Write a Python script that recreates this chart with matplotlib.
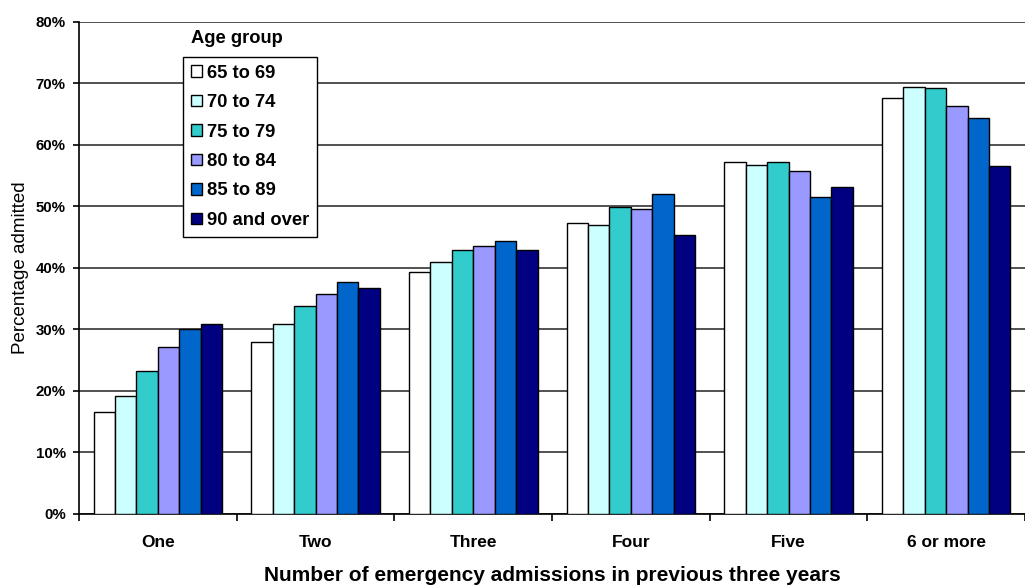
import numpy as np
import matplotlib
matplotlib.use('Agg')
import matplotlib.pyplot as plt
from matplotlib.ticker import PercentFormatter

plt.rcParams['font.family'] = ['Liberation Sans', 'DejaVu Sans']

# ── Data ─────────────────────────────────────────────────────────────────────
categories = ["One", "Two", "Three", "Four", "Five", "6 or more"]
age_groups = ["65 to 69", "70 to 74", "75 to 79", "80 to 84", "85 to 89", "90 and over"]

pct_65_69 = [16.6, 28.0, 39.3, 47.3, 57.3, 67.6]
pct_70_74 = [19.2, 30.9, 40.9, 47.0, 56.8, 69.5]
pct_75_79 = [23.2, 33.8, 43.0, 49.9, 57.3, 69.2]
pct_80_84 = [27.2, 35.7, 43.5, 49.6, 55.8, 66.3]
pct_85_89 = [30.0, 37.8, 44.4, 52.1, 51.5, 64.4]
pct_90_up = [30.9, 36.7, 43.0, 45.4, 53.1, 56.6]

series = [pct_65_69, pct_70_74, pct_75_79, pct_80_84, pct_85_89, pct_90_up]
colors = ["#FFFFFF", "#CCFFFF", "#33CCCC", "#9999FF", "#0066CC", "#000080"]

# ── Plot ─────────────────────────────────────────────────────────────────────
fig = plt.figure(figsize=(10.25, 5.85), dpi=100)
ax = fig.add_axes([0.0771, 0.1214, 0.9229, 0.841])

x = np.arange(len(categories))
bar_w = 0.136
offsets = (np.arange(len(series)) - (len(series) - 1) / 2) * bar_w

for vals, col, lab, off in zip(series, colors, age_groups, offsets):
    ax.bar(x + off, vals, width=bar_w, color=col, edgecolor="black",
           linewidth=1.0, label=lab, zorder=3)

ax.set_xlim(-0.5, len(categories) - 0.5)
ax.set_ylim(0, 80)
ax.set_yticks(np.arange(0, 81, 10))
ax.yaxis.set_major_formatter(PercentFormatter(decimals=0))
ax.yaxis.grid(True, color="#333333", linewidth=1.2, zorder=0)
ax.set_axisbelow(True)

# category labels centred, ticks on group boundaries
ax.set_xticks(x)
ax.set_xticklabels(categories, fontsize=12.5, fontweight="bold")
ax.set_xticks(np.arange(-0.5, len(categories)), minor=True)
ax.tick_params(axis="x", which="major", length=0, pad=15)
ax.tick_params(axis="x", which="minor", length=5, width=1.2, direction="out")
ax.tick_params(axis="y", length=4.5, width=1.2, direction="out", labelsize=10.8, pad=5)
for t in ax.get_yticklabels():
    t.set_fontweight("bold")

for s in ["top", "right"]:
    ax.spines[s].set_visible(False)
ax.spines["left"].set_linewidth(1.2)
ax.spines["bottom"].set_linewidth(1.2)

ax.set_ylabel("Percentage admitted", fontsize=13.5, labelpad=5)
ax.set_xlabel("Number of emergency admissions in previous three years",
              fontsize=15, fontweight="bold", labelpad=12)

leg = ax.legend(loc="upper left", bbox_to_anchor=(0.110, 0.929), borderaxespad=0,
                fancybox=False, frameon=True, edgecolor="black",
                handlelength=0.6, handleheight=0.6, handletextpad=0.3,
                labelspacing=0.68, borderpad=0.42,
                prop={"size": 13.2, "weight": "bold"})
leg.get_frame().set_linewidth(1.0)
leg.get_frame().set_alpha(1)
ax.text(0.167, 0.967, "Age group", transform=ax.transAxes, ha="center",
        va="center", fontsize=13.2, fontweight="bold")

fig.savefig("out.png", dpi=100)
